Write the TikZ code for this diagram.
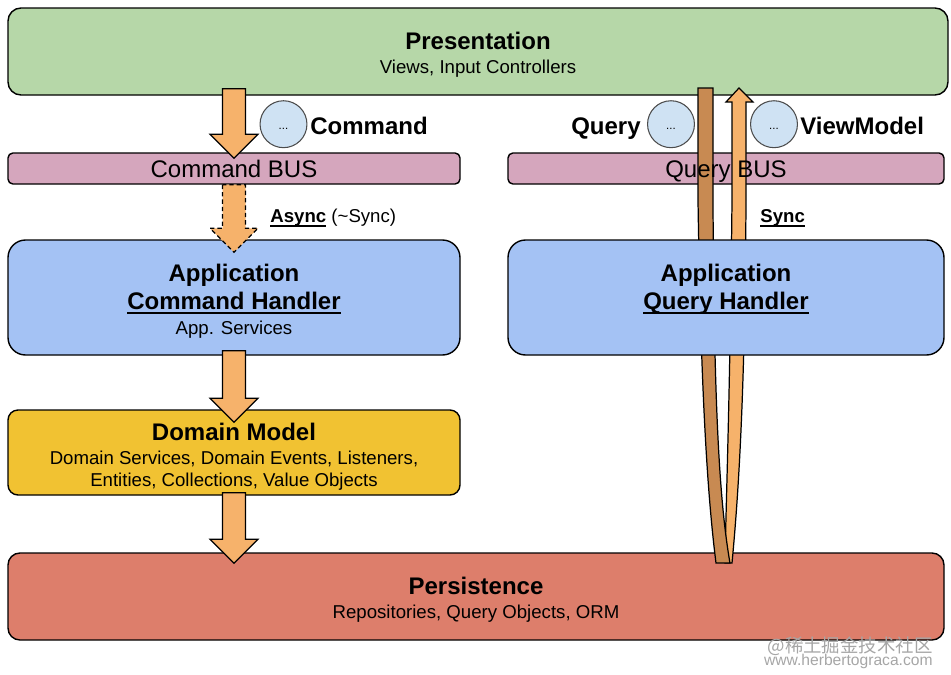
\documentclass[tikz,border=0pt]{standalone}
\usepackage{fontspec}
\setmainfont{Liberation Sans}
\newfontfamily\cjkfont{Noto Sans CJK SC}
\usetikzlibrary{calc,fit}
\definecolor{presgreen}{HTML}{B6D7A8}
\definecolor{busrose}{HTML}{D5A6BD}
\definecolor{appblue}{HTML}{A4C2F4}
\definecolor{domyellow}{HTML}{F1C232}
\definecolor{persred}{HTML}{DD7E6B}
\definecolor{arroworange}{HTML}{F6B26B}
\definecolor{arrowbrown}{HTML}{C88A52}
\definecolor{bubbleblue}{HTML}{CFE2F3}
\def\blockarrow[#1](#2)(#3){\draw[#1] ($(#2)+(-11.5,0)$) -- ($(#3)+(-11.5,-24)$) -- ($(#3)+(-24,-24)$) -- (#3) -- ($(#3)+(24,-24)$) -- ($(#3)+(11.5,-24)$) -- ($(#2)+(11.5,0)$) -- cycle;}
\newcommand\layerul[1]{\setbox0\hbox{#1}\rlap{\vrule width\wd0 height -0.14em depth 0.21em}\box0}
\tikzset{
	layerbox/.style={draw=black, line width=0.8pt, inner sep=0pt},
	arrowbox/.style={draw=black, line width=0.7pt, fill=arroworange, line join=miter},
	bubble/.style={circle, draw=black!70, line width=0.6pt, fill=bubbleblue, minimum size=26.7pt, inner sep=0pt, font=\fontsize{6.5}{7}\selectfont, text height=1.2ex, text depth=0pt},
	title/.style={inner sep=0pt, anchor=base, font=\fontsize{13.66}{16}\selectfont\bfseries},
	bustext/.style={inner sep=0pt, anchor=base, font=\fontsize{13.66}{16}\selectfont},
	sub/.style={inner sep=0pt, anchor=base, font=\fontsize{10.6}{13}\selectfont}
}
\begin{document}
\begin{tikzpicture}[x=0.02cm, y=-0.02cm]
	%%%%% START %%%%%
	\useasboundingbox (0,0) rectangle (951,674);
	
	\node[layerbox, fill=presgreen, rounded corners=7.4pt, fit={(8,8) (948,95)}] (pres) {};
	\node[layerbox, fill=busrose, rounded corners=2.8pt, fit={(8,153) (460,184)}] (cbus) {};
	\node[layerbox, fill=busrose, rounded corners=2.8pt, fit={(508,153) (944,184)}] (qbus) {};
	\node[layerbox, fill=appblue, rounded corners=10pt, fit={(8,240) (460,355)}] (cqh) {};
	\node[layerbox, fill=domyellow, rounded corners=5.7pt, fit={(8,410) (460,495)}] (dom) {};
	\node[layerbox, fill=persred, rounded corners=6.8pt, fit={(8,553) (944,640)}] (pers) {};
	
	% command side
	\coordinate (cmdtop) at ($(pres.south -| cbus.north)+(0,-7)$);
	\coordinate (cmdtip) at ($(cbus.north)+(0,6)$);
	\blockarrow[arrowbox](cmdtop)(cmdtip)
	\coordinate (asynctop) at (cbus.south);
	\coordinate (asynctip) at ($(cqh.north)+(0,13)$);
	\blockarrow[arrowbox, dash pattern=on 2.5pt off 1.7pt](asynctop)(asynctip)
	\coordinate (handlertop) at ($(cqh.south)+(0,-5)$);
	\coordinate (handlertip) at ($(dom.north)+(0,13)$);
	\blockarrow[arrowbox](handlertop)(handlertip)
	\coordinate (domtop) at ($(dom.south)+(0,-3)$);
	\coordinate (domtip) at ($(pers.north -| dom.south)+(0,11)$);
	\blockarrow[arrowbox](domtop)(domtip)
	
	% query side
	\draw[arrowbox] (739,88) -- (753,102) -- (746,102) -- (746,200) .. controls (745,400) and (738,500) .. (732,563) -- (725,563) .. controls (726,500) and (730,400) .. (732,200) -- (732,102) -- (726,102) -- cycle;
	\draw[arrowbox, fill=arrowbrown] (698,88) -- (713,88) -- (713,200) .. controls (714,400) and (719,500) .. (730,563) -- (716,563) .. controls (708,500) and (701,400) .. (698,200) -- cycle;
	\node[layerbox, fill=appblue, rounded corners=10pt, fit={(508,240) (944,355)}] (qqh) {};
	
	\node[title] (prestitle) at (pres.center |- 0,49.3) {Presentation};
	\node[sub] (pressub) at (pres.center |- 0,73.3) {Views, Input Controllers};
	\node[bustext] (cbustext) at (cbus.center |- 0,177.5) {Command BUS};
	\node[bustext] (qbustext) at (qbus.center |- 0,177.5) {Query BUS};
	\node[title] (cqhtitle) at (cqh.center |- 0,281) {Application};
	\node[title] (cqhname) at (cqh.center |- 0,309) {\layerul{Command Handler}};
	\node[sub] (cqhsub) at (cqh.center |- 0,334) {App. Services};
	\node[title] (qqhtitle) at (qqh.center |- 0,281) {Application};
	\node[title] (qqhname) at (qqh.center |- 0,309) {\layerul{Query Handler}};
	\node[title] (domtitle) at (dom.center |- 0,440) {Domain Model};
	\node[sub] (domsub) at (dom.center |- 0,464) {Domain Services, Domain Events, Listeners,};
	\node[sub] (domsubb) at (dom.center |- 0,486) {Entities, Collections, Value Objects};
	\node[title] (perstitle) at (pers.center |- 0,594.5) {Persistence};
	\node[sub] (perssub) at (pers.center |- 0,618) {Repositories, Query Objects, ORM};
	
	\node[bubble] (cmdbub) at (283.5,124.2) {...};
	\node[title, anchor=base west] (cmdlbl) at (310,134.3) {Command};
	\node[bubble] (querybub) at (671,124.2) {...};
	\node[title, anchor=base east] (querylbl) at (641,134.3) {Query};
	\node[bubble] (vmbub) at (774,124.2) {...};
	\node[title, anchor=base west] (vmlbl) at (800,134.3) {ViewModel};
	
	\node[sub, anchor=base west] (asynclbl) at (270,222.7) {\textbf{\layerul{Async}} (\textasciitilde Sync)};
	\node[sub, anchor=base west] (synclbl) at (760,222.7) {\textbf{\layerul{Sync}}};
	
	\node[inner sep=0pt, anchor=base east, font=\cjkfont\fontsize{10.5}{12}\selectfont, text=black!35] (wmcjk) at (933,652) {@稀土掘金技术社区};
	\node[inner sep=0pt, anchor=base east, font=\fontsize{8.9}{10}\selectfont, text=black!35] (wmurl) at (933,665) {www.herbertograca.com};
	
	%%%%% END %%%%%
\end{tikzpicture}
\end{document}
